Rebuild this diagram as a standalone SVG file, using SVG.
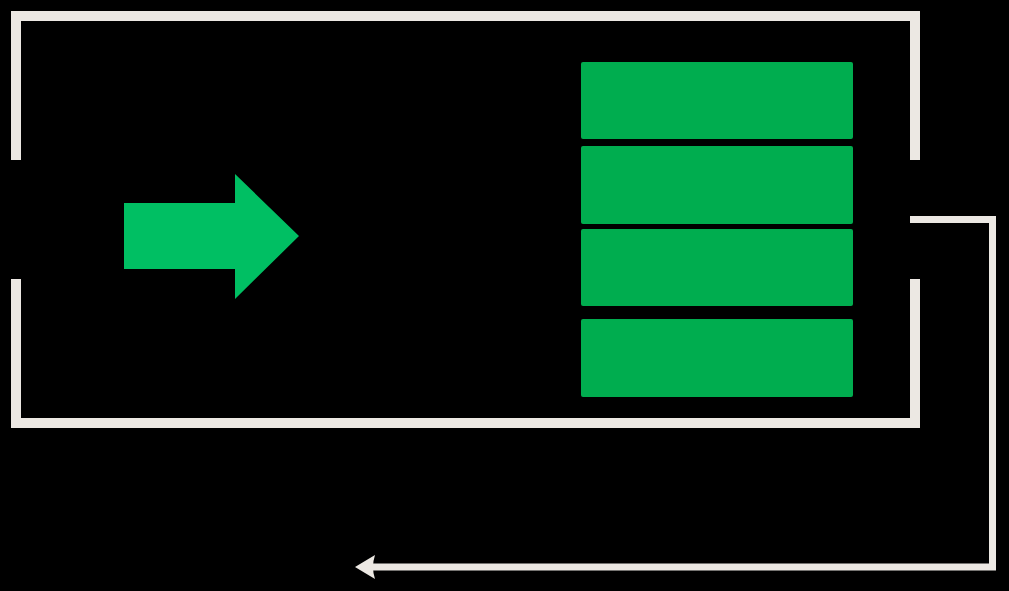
<svg xmlns="http://www.w3.org/2000/svg" width="1009" height="591" viewBox="0 0 1009 591">
<defs>
<style>
.frame{fill:none;stroke:#ECE8E3;stroke-width:10;stroke-linecap:butt;stroke-linejoin:miter}
.conn{fill:none;stroke:#ECE8E3;stroke-width:7;stroke-linejoin:miter}
.bar{fill:#00AD4F}
</style>
<marker id="ah" markerUnits="userSpaceOnUse" markerWidth="24" markerHeight="30" refX="5" refY="15" orient="auto" viewBox="0 0 24 30">
<path d="M2,3 Q6,15 2,27 L22,15 Z" fill="#ECE8E3"/>
</marker>
</defs>
<rect width="1009" height="591" fill="#000"/>
<g id="frame">
<path class="frame" d="M16,160 V16 H915 V160"/>
<path class="frame" d="M16,279 V423 H915 V279"/>
</g>
<g id="arrow">
<polygon points="124,203 235,203 235,174 299,236 235,299 235,269 124,269" fill="#00BF63"/>
</g>
<g id="stack">
<rect class="bar" x="581" y="62" width="272" height="77" rx="2"/>
<rect class="bar" x="581" y="146" width="272" height="78" rx="2"/>
<rect class="bar" x="581" y="229" width="272" height="77" rx="2"/>
<rect class="bar" x="581" y="319" width="272" height="78" rx="2"/>
</g>
<g id="connectors">
<path class="conn" d="M910,219.5 H992.5 V567 H372" marker-end="url(#ah)"/>
</g>
</svg>
